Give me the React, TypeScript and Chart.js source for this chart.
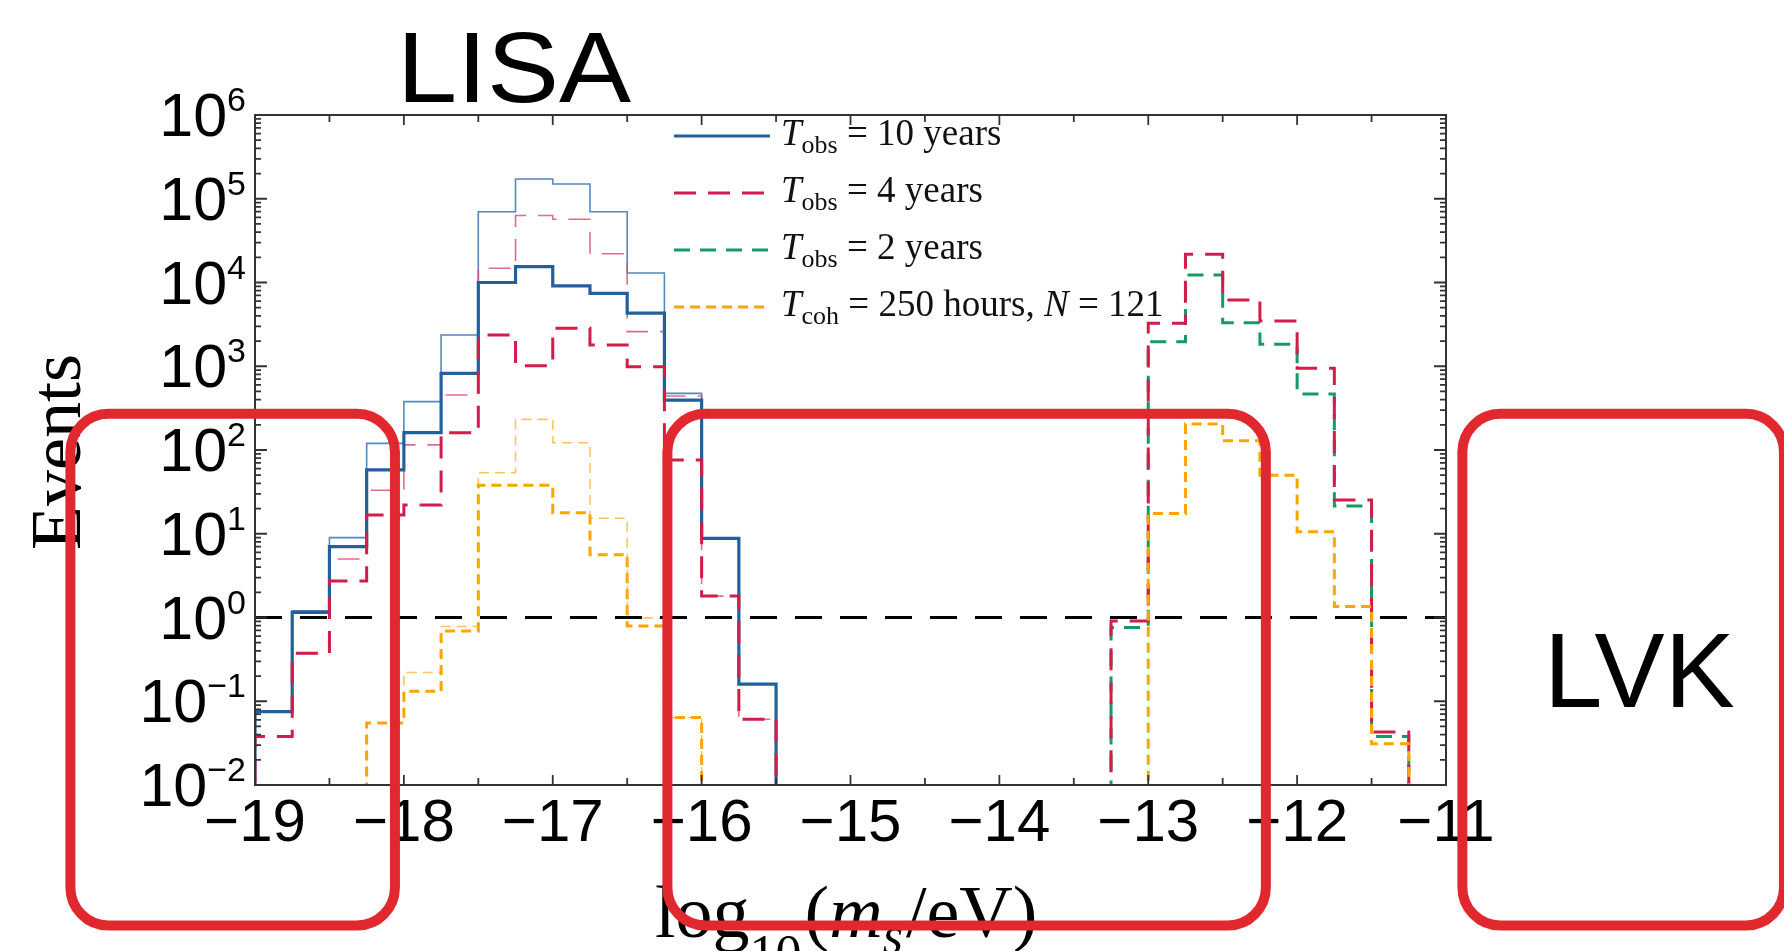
import React, { useEffect, useRef } from 'react';
import { Chart, registerables } from 'chart.js';

Chart.register(...registerables);

// ---------------- data ----------------
const BIN_WIDTH = 0.25;
const lisaBins = [-19, -18.75, -18.5, -18.25, -18, -17.75, -17.5, -17.25, -17, -16.75, -16.5, -16.25, -16, -15.75];
const lvkBins = [-13.25, -13, -12.75, -12.5, -12.25, -12, -11.75, -11.5];

// LISA region (one value per bin in lisaBins, null = empty)
const blue10yr = [0.075, 1.15, 7.0, 58, 161, 824, 1.0e4, 1.55e4, 9.1e3, 7.4e3, 4.3e3, 395, 8.8, 0.16];
const blue10yrThin = [0.075, 1.2, 9.0, 120, 378, 2360, 7.0e4, 1.72e5, 1.5e5, 7.0e4, 1.3e4, 475, 8.8, 0.16];
const red4yr = [0.038, 0.373, 2.73, 16.7, 22, 161, 2360, 1016, 2840, 1794, 988, 76, 1.8, 0.061];
const red4yrThin = [0.038, 0.373, 5.0, 33, 115, 454, 1.48e4, 6.3e4, 5.7e4, 2.2e4, 2590, 441, 1.8, 0.061];
const orangeCoh = [null, null, null, 0.055, 0.132, 0.69, 38, 38, 17.8, 5.6, 0.79, 0.064, null, null];
const orangeCohThin = [null, null, null, 0.055, 0.22, 0.78, 53.6, 232, 122, 15.3, 0.99, 0.064, null, null];

// LVK region (one value per bin in lvkBins)
const red4yrLVK = [0.91, 3260, 2.17e4, 6180, 3470, 944, 25.3, 0.043];
const green2yrLVK = [0.76, 1963, 1.23e4, 3310, 1830, 466, 21.4, 0.038];
const orangeCohLVK = [null, 17.5, 204, 129, 50, 10.6, 1.35, 0.031];

const thresholdLine = [{ x: -19, y: 1 }, { x: -11, y: 1 }];

const xTickLabels = [-19, -18, -17, -16, -15, -14, -13, -12, -11];
const xTickMarks = [-19, -18.5, -18, -17.5, -17, -16.5, -16, -15.5, -15, -14.5, -14, -13.5, -13, -12.5, -12, -11.5, -11];
const yTickExponents = [-2, -1, 0, 1, 2, 3, 4, 5, 6];

const X_MIN = -19, X_MAX = -11, Y_MIN = 1e-2, Y_MAX = 1e6;
const FLOOR = 1e-4;

// annotation boxes (axis units)
const annotBoxesX = [[-20.24, -18.06], [-16.23, -12.21], [-10.89, -8.73]];
const annotTop = 270;
const annotBottom = 2.1e-4;

// ---------------- helpers ----------------
type Pt = { x: number; y: number };
function steps(bins: number[], vals: (number | null)[], out: Pt[]) {
  let open = false;
  for (let i = 0; i < bins.length; i++) {
    const v = vals[i];
    if (v == null) {
      if (open) {
        out.push({ x: bins[i - 1] + BIN_WIDTH, y: FLOOR });
        open = false;
      }
      continue;
    }
    if (!open) {
      out.push({ x: bins[i], y: FLOOR });
      open = true;
    }
    out.push({ x: bins[i], y: v });
  }
  if (open) out.push({ x: bins[bins.length - 1] + BIN_WIDTH, y: FLOOR });
  return out;
}
function build(lisa: (number | null)[] | null, lvk: (number | null)[] | null): Pt[] {
  const out: Pt[] = [];
  if (lisa) steps(lisaBins, lisa, out);
  if (lvk) steps(lvkBins, lvk, out);
  return out;
}

const COL_BLUE = '#23609b';
const COL_BLUE_THIN = 'rgba(55,115,175,0.85)';
const COL_RED = '#d41c4a';
const COL_RED_THIN = 'rgba(222,80,118,0.85)';
const COL_GREEN = '#149a64';
const COL_ORANGE = '#ffa500';
const COL_ORANGE_THIN = 'rgba(255,190,80,0.9)';

const DASH_RED = [22, 12];
const DASH_GREEN = [16, 10];
const DASH_ORANGE = [10, 6];

function ds(label: string, data: Pt[], color: string, width: number, dash: number[], order: number) {
  return {
    label,
    data,
    borderColor: color,
    borderWidth: width,
    borderDash: dash,
    borderCapStyle: 'butt',
    borderJoinStyle: 'miter',
    stepped: 'before',
    pointRadius: 0,
    fill: false,
    tension: 0,
    order,
  };
}

const legendItems = [
  { color: COL_BLUE, width: 3, dash: [] as number[], sub: 'obs', rest: ' = 10 years' },
  { color: COL_RED, width: 3, dash: DASH_RED, sub: 'obs', rest: ' = 4 years' },
  { color: COL_GREEN, width: 3, dash: DASH_GREEN, sub: 'obs', rest: ' = 2 years' },
  { color: COL_ORANGE, width: 3, dash: DASH_ORANGE, sub: 'coh', rest: ' = 250 hours, ', n: ' = 121' },
];

const SANS = '"Liberation Sans", Arial, sans-serif';
const SERIF = '"Liberation Serif", "Times New Roman", serif';

const overlayPlugin = {
  id: 'overlay',
  afterDraw(chart: any) {
    const ctx: CanvasRenderingContext2D = chart.ctx;
    const xs = chart.scales.x;
    const ys = chart.scales.y;
    const { left, right, top, bottom } = chart.chartArea;
    ctx.save();

    // frame
    ctx.setLineDash([]);
    ctx.strokeStyle = '#333';
    ctx.lineWidth = 2;
    ctx.strokeRect(left, top, right - left, bottom - top);

    // x tick marks (inward, bottom and top)
    ctx.lineWidth = 1.8;
    for (const v of xTickMarks) {
      const px = xs.getPixelForValue(v);
      const len = Number.isInteger(v) ? 10 : 7;
      ctx.beginPath();
      ctx.moveTo(px, bottom);
      ctx.lineTo(px, bottom - len);
      ctx.moveTo(px, top);
      ctx.lineTo(px, top + len);
      ctx.stroke();
    }
    // y tick marks (log, inward, left and right)
    for (let e = -2; e <= 6; e++) {
      const py = ys.getPixelForValue(Math.pow(10, e));
      ctx.beginPath();
      ctx.moveTo(left, py); ctx.lineTo(left + 12, py);
      ctx.moveTo(right, py); ctx.lineTo(right - 12, py);
      ctx.stroke();
      if (e < 6) {
        for (let m = 2; m <= 9; m++) {
          const pm = ys.getPixelForValue(m * Math.pow(10, e));
          ctx.beginPath();
          ctx.moveTo(left, pm); ctx.lineTo(left + 6, pm);
          ctx.moveTo(right, pm); ctx.lineTo(right - 6, pm);
          ctx.stroke();
        }
      }
    }

    ctx.fillStyle = '#000';
    ctx.textAlign = 'left';
    ctx.textBaseline = 'alphabetic';

    // y tick labels 10^n
    const mainFont = '61px ' + SANS;
    const supFont = '34px ' + SANS;
    for (const e of yTickExponents) {
      const py = ys.getPixelForValue(Math.pow(10, e));
      const expStr = e < 0 ? '\u2212' + Math.abs(e) : String(e);
      ctx.font = supFont;
      const wExp = ctx.measureText(expStr).width;
      ctx.font = mainFont;
      const wMain = ctx.measureText('10').width;
      const xr = left - 9;
      ctx.fillText('10', xr - wExp - wMain, py + 21);
      ctx.font = supFont;
      ctx.fillText(expStr, xr - wExp, py - 4);
    }

    // x tick labels
    ctx.font = '60px ' + SANS;
    ctx.textAlign = 'center';
    for (const v of xTickLabels) {
      const px = xs.getPixelForValue(v);
      const s = v < 0 ? '\u2212' + Math.abs(v) : String(v);
      ctx.fillText(s, px, bottom + 56);
    }

    // y axis title
    ctx.save();
    ctx.translate(80, 452);
    ctx.rotate(-Math.PI / 2);
    ctx.font = '72px ' + SERIF;
    ctx.textAlign = 'center';
    ctx.fillText('Events', 0, 0);
    ctx.restore();

    // x axis title: log10(m_s/eV)
    ctx.textAlign = 'left';
    const tBase = 937;
    let tx = 655;
    const parts: { t: string; f: string; dy: number }[] = [
      { t: 'log', f: '74px ' + SERIF, dy: 0 },
      { t: '10', f: '52px ' + SERIF, dy: 34 },
      { t: '(', f: '74px ' + SERIF, dy: 0 },
      { t: 'm', f: 'italic 74px ' + SERIF, dy: 0 },
      { t: 's', f: 'italic 52px ' + SERIF, dy: 16 },
      { t: '/eV)', f: '74px ' + SERIF, dy: 0 },
    ];
    for (const p of parts) {
      ctx.font = p.f;
      ctx.fillText(p.t, tx, tBase + p.dy);
      tx += ctx.measureText(p.t).width + (p.t === '10' ? 3 : 0) + (p.t === 's' ? 3 : 0);
    }

    // legend
    const rowY = [136, 193, 250, 307];
    const lx0 = 674, lx1 = 770, txt0 = 781;
    legendItems.forEach((it, i) => {
      const y = rowY[i];
      ctx.strokeStyle = it.color;
      ctx.lineWidth = it.width;
      ctx.setLineDash(it.dash);
      ctx.beginPath();
      ctx.moveTo(lx0, y);
      ctx.lineTo(lx1, y);
      ctx.stroke();
      ctx.setLineDash([]);
      const base = y + 9;
      let x = txt0;
      ctx.fillStyle = '#111';
      ctx.font = 'italic 37px ' + SERIF;
      ctx.fillText('T', x, base);
      x += ctx.measureText('T').width;
      ctx.font = '26px ' + SERIF;
      ctx.fillText(it.sub, x, base + 8);
      x += ctx.measureText(it.sub).width;
      ctx.font = '37px ' + SERIF;
      ctx.fillText(it.rest, x, base);
      x += ctx.measureText(it.rest).width;
      if (it.n) {
        ctx.font = 'italic 37px ' + SERIF;
        ctx.fillText('N', x, base);
        x += ctx.measureText('N').width;
        ctx.font = '37px ' + SERIF;
        ctx.fillText(it.n, x, base);
      }
    });

    // LISA / LVK labels
    ctx.fillStyle = '#000';
    ctx.save();
    ctx.translate(397, 102);
    ctx.scale(1.08, 1);
    ctx.font = '100px ' + SANS;
    ctx.fillText('LISA', 0, 0);
    ctx.restore();
    ctx.font = '105px ' + SANS;
    ctx.fillText('LVK', 1544, 707);

    // red annotation boxes
    ctx.strokeStyle = '#e0282e';
    ctx.lineWidth = 10;
    ctx.setLineDash([]);
    const bt = ys.getPixelForValue(annotTop);
    const bb = ys.getPixelForValue(annotBottom);
    for (const [a, b] of annotBoxesX) {
      const xa = xs.getPixelForValue(a);
      const xb = xs.getPixelForValue(b);
      ctx.beginPath();
      (ctx as any).roundRect(xa, bt, xb - xa, bb - bt, 38);
      ctx.stroke();
    }

    ctx.restore();
  },
};

export default function App() {
  const ref = useRef<HTMLCanvasElement>(null);
  useEffect(() => {
    const canvas = ref.current;
    if (!canvas) return;
    const datasets: any[] = [
      ds('threshold', thresholdLine, '#000', 3, [27, 18], 0),
      ds('Tcoh = 250 hours', build(orangeCoh, orangeCohLVK), COL_ORANGE, 3, DASH_ORANGE, 1),
      ds('Tobs = 4 years', build(red4yr, red4yrLVK), COL_RED, 3, DASH_RED, 2),
      ds('Tobs = 2 years', build(null, green2yrLVK), COL_GREEN, 3, DASH_GREEN, 3),
      ds('Tobs = 10 years', build(blue10yr, null), COL_BLUE, 3.2, [], 4),
      ds('Tcoh thin', build(orangeCohThin, null), COL_ORANGE_THIN, 1.6, DASH_ORANGE, 5),
      ds('Tobs 4 thin', build(red4yrThin, null), COL_RED_THIN, 1.6, DASH_RED, 6),
      ds('Tobs 10 thin', build(blue10yrThin, null), COL_BLUE_THIN, 1.6, [], 7),
    ];
    datasets[0].stepped = false;
    const chart = new Chart(canvas, {
      type: 'line',
      data: { datasets },
      options: {
        animation: false,
        responsive: false,
        devicePixelRatio: 1,
        layout: { padding: { left: 255, top: 115, right: 338, bottom: 166 } },
        plugins: { legend: { display: false }, tooltip: { enabled: false }, title: { display: false } },
        events: [],
        scales: {
          x: { type: 'linear', min: X_MIN, max: X_MAX, display: false },
          y: { type: 'logarithmic', min: Y_MIN, max: Y_MAX, display: false },
        },
      },
      plugins: [overlayPlugin],
    } as any);
    return () => chart.destroy();
  }, []);
  return (
    <div style={{ position: 'absolute', left: 0, top: 0, width: 1784, height: 951, overflow: 'hidden', background: '#fff' }}>
      <canvas ref={ref} width={1784} height={951} style={{ display: 'block', width: 1784, height: 951 }} />
    </div>
  );
}
